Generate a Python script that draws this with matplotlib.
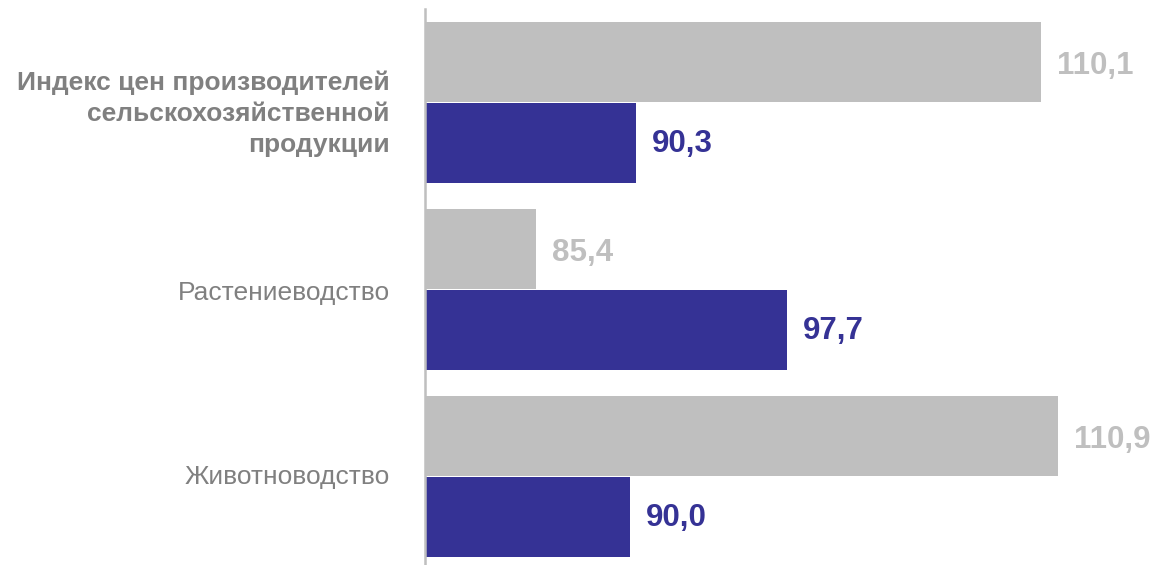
import matplotlib.pyplot as plt
import numpy as np

plt.rcParams['font.family'] = ['Liberation Sans', 'DejaVu Sans']

# Data
categories = ["Индекс цен производителей\nсельскохозяйственной\nпродукции",
              "Растениеводство",
              "Животноводство"]
prev_values = [110.1, 85.4, 110.9]   # gray series
curr_values = [90.3, 97.7, 90.0]     # blue series

gray = "#BFBFBF"
blue = "#353295"
text_gray = "#808080"

W, H = 1169, 565
fig = plt.figure(figsize=(W / 100, H / 100), dpi=100)
ax = fig.add_axes([425 / W, 0, 1 - 425 / W, (H - 9) / H])

y = np.arange(len(categories))
off = 0.2166
h = 0.428

ax.barh(y - off, prev_values, height=h, color=gray, zorder=2)
ax.barh(y + off, curr_values, height=h, color=blue, zorder=2)

def fmt(v):
    return f"{v:.1f}".replace(".", ",")

for yi, v in zip(y, prev_values):
    ax.annotate(fmt(v), (v, yi - off), xytext=(16, -4), textcoords="offset pixels",
                ha="left", va="center", fontsize=22.5, fontweight="bold", color=gray)
for yi, v in zip(y, curr_values):
    ax.annotate(fmt(v), (v, yi + off), xytext=(16, -1), textcoords="offset pixels",
                ha="left", va="center", fontsize=22.5, fontweight="bold", color=blue)

# category labels
dy = [-11, -3, 0]
for i, (yi, cat) in enumerate(zip(y, categories)):
    ax.annotate(cat, (80, yi), xytext=(-35, dy[i]), textcoords="offset pixels",
                ha="right", va="center", fontsize=19, color=text_gray,
                fontweight="bold" if i == 0 else "normal", linespacing=1.37,
                multialignment="right", annotation_clip=False)

ax.set_xlim(80, 80 + 744 / 20.47)
ax.set_ylim(2.473, -0.5)

for s in ["top", "right", "bottom"]:
    ax.spines[s].set_visible(False)
ax.spines["left"].set_color(gray)
ax.spines["left"].set_linewidth(1.8)
ax.set_xticks([])
ax.set_yticks([])

fig.savefig("out.png", dpi=100)
